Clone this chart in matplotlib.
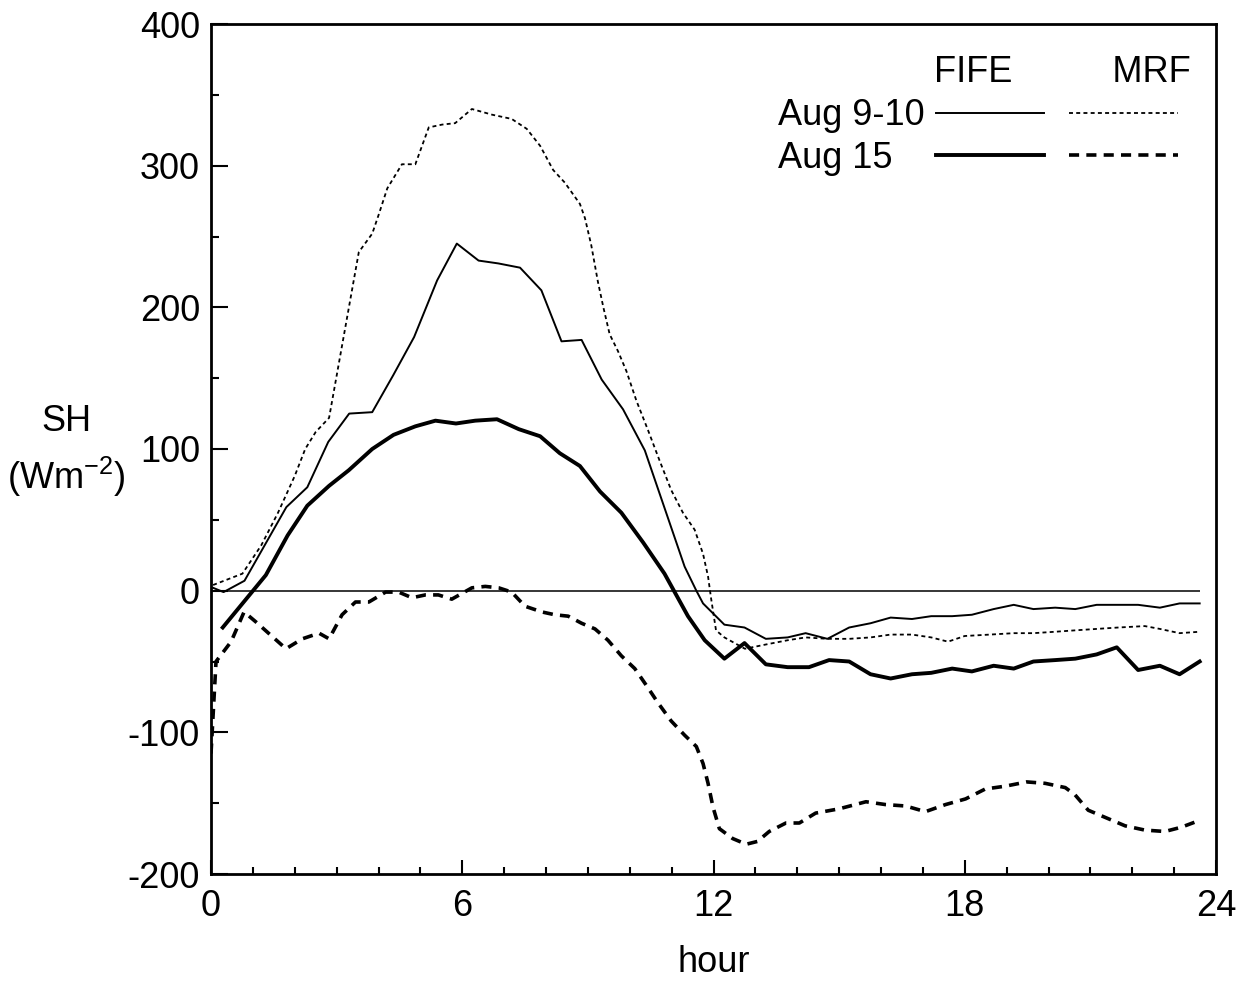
import matplotlib
matplotlib.use("Agg")
import matplotlib.pyplot as plt
from matplotlib.lines import Line2D
from matplotlib.ticker import MultipleLocator

plt.rcParams["font.family"] = ["Liberation Sans", "DejaVu Sans"]
plt.rcParams["mathtext.fontset"] = "custom"
plt.rcParams["mathtext.rm"] = "Liberation Sans"
plt.rcParams["axes.unicode_minus"] = False

# FIFE Aug 9-10 (thin solid)
fife910_h = [0.05, 0.3, 0.8, 1.8, 2.3, 2.8, 3.3, 3.85, 4.35, 4.85, 5.4, 5.87, 6.39, 6.86,
             7.38, 7.89, 8.37, 8.85, 9.33, 9.84, 10.36, 11.31, 11.59, 11.75, 12.26, 12.74,
             13.25, 13.77, 14.2, 14.72, 15.24, 15.75, 16.23, 16.74, 17.2, 17.7, 18.17, 18.69,
             19.17, 19.64, 20.16, 20.64, 21.15, 21.67, 22.14, 22.66, 23.13, 23.61]
fife910_v = [2, -1, 7, 59, 73, 105, 125, 126, 152, 179, 219, 245, 233, 231,
             228, 212, 176, 177, 149, 128, 99, 17, 0, -9, -24, -26,
             -34, -33, -30, -34, -26, -23, -19, -20, -18, -18, -17, -13,
             -10, -13, -12, -13, -10, -10, -10, -12, -9, -9]

# FIFE Aug 15 (thick solid)
fife15_h = [0.28, 1.31, 1.83, 2.3, 2.82, 3.29, 3.85, 4.36, 4.88, 5.36, 5.85, 6.31, 6.83,
            7.35, 7.86, 8.33, 8.81, 9.29, 9.8, 10.32, 10.83, 11.39, 11.79, 12.26, 12.74,
            13.25, 13.77, 14.28, 14.76, 15.24, 15.75, 16.23, 16.74, 17.2, 17.7, 18.17,
            18.69, 19.17, 19.64, 20.16, 20.64, 21.15, 21.63, 22.14, 22.66, 23.13, 23.61]
fife15_v = [-26, 11, 39, 60, 74, 85, 100, 110, 116, 120, 118, 120, 121,
            114, 109, 97, 88, 70, 55, 34, 12, -18, -35, -48, -37,
            -52, -54, -54, -49, -50, -59, -62, -59, -58, -55, -57,
            -53, -55, -50, -49, -48, -45, -40, -56, -53, -59, -50]

# MRF Aug 9-10 (thin dotted)
mrf910_h = [0.05, 0.75, 1.2, 1.6, 2.0, 2.25, 2.5, 2.82, 3.53, 3.85, 4.0, 4.21, 4.56, 4.88,
            5.2, 5.52, 5.83, 6.23, 6.71, 7.18, 7.54, 7.86, 8.17, 8.45, 8.81, 8.93, 9.08,
            9.24, 9.37, 9.52, 9.72, 9.92, 10.16, 10.44, 10.71, 10.99, 11.27, 11.55, 11.75,
            11.87, 11.94, 12.06, 12.26, 12.75, 13.25, 13.77, 14.2, 14.72, 15.24, 15.75,
            16.23, 16.74, 17.2, 17.6, 18.0, 18.6, 19.17, 19.64, 20.16, 20.64, 21.15,
            21.67, 22.3, 22.66, 23.13, 23.61]
mrf910_v = [4, 12, 32, 55, 81, 100, 112, 122, 239, 252, 265, 284, 301, 301,
            327, 329, 330, 340, 336, 333, 326, 314, 297, 288, 273, 263, 244,
            218, 200, 181, 169, 155, 134, 113, 92, 71, 55, 43, 26,
            10, -5, -28, -33, -41, -38, -35, -33, -34, -34, -33,
            -31, -31, -33, -36, -32, -31, -30, -30, -29, -28, -27,
            -26, -25, -27, -30, -29]

# MRF Aug 15 (thick dashed)
mrf15_h = [0.0, 0.12, 0.48, 0.79, 1.07, 1.79, 2.18, 2.58, 2.82, 3.13, 3.45, 3.77, 4.17,
           4.48, 4.8, 5.12, 5.43, 5.75, 6.23, 6.55, 6.87, 7.18, 7.5, 7.9, 8.21, 8.53,
           8.85, 9.17, 9.48, 9.8, 10.12, 10.4, 10.67, 10.99, 11.31, 11.59, 11.75, 11.87,
           11.99, 12.14, 12.46, 12.78, 13.05, 13.33, 13.73, 14.05, 14.44, 15.0, 15.64,
           16.11, 16.59, 17.06, 17.54, 18.02, 18.49, 18.97, 19.48, 19.92, 20.4, 20.63,
           20.95, 21.35, 21.83, 22.3, 22.78, 23.17, 23.53]
mrf15_v = [-115, -50, -36, -15, -22, -41, -34, -30, -34, -17, -8, -8, -1,
           -1, -5, -3, -3, -6, 2, 3, 2, -1, -11, -15, -17, -18,
           -23, -27, -35, -46, -55, -67, -79, -92, -102, -110, -122, -136,
           -153, -168, -175, -179, -177, -170, -164, -164, -157, -154, -149,
           -151, -152, -156, -151, -147, -140, -138, -135, -136, -139, -144,
           -155, -160, -166, -169, -170, -167, -163]

row_labels = ["Aug 9-10", "Aug 15"]

FS = 26

fig = plt.figure(figsize=(12.46, 9.81), dpi=100)
ax = fig.add_axes([211 / 1246, 1 - 874 / 981, (1216 - 211) / 1246, (874 - 24) / 981])

ax.hlines(0, 0, fife910_h[-1], color="black", lw=1.1)
l1, = ax.plot(fife910_h, fife910_v, color="black", lw=1.4)
l2, = ax.plot(fife15_h, fife15_v, color="black", lw=2.8)
l3, = ax.plot(mrf910_h, mrf910_v, color="black", lw=1.3, ls=(0, (2.2, 1.8)))
l4, = ax.plot(mrf15_h, mrf15_v, color="black", lw=2.6, ls=(0, (2.8, 2.0)))

ax.set_xlim(0, 24)
ax.set_ylim(-200, 400)
ax.xaxis.set_major_locator(MultipleLocator(6))
ax.xaxis.set_minor_locator(MultipleLocator(1))
ax.yaxis.set_major_locator(MultipleLocator(100))
ax.yaxis.set_minor_locator(MultipleLocator(50))
ax.tick_params(which="both", direction="in", width=1.5, labelsize=FS,
               top=False, right=False)
ax.tick_params(axis="x", which="major", length=10, pad=11)
ax.tick_params(axis="x", which="minor", length=5)
ax.tick_params(axis="y", which="major", length=12, pad=8)
ax.tick_params(axis="y", which="minor", length=6)
for sp in ax.spines.values():
    sp.set_linewidth(2)

ax.set_xlabel("hour", fontsize=FS, labelpad=15)
ax.set_ylabel("SH\n(Wm$^{-2}$)", fontsize=FS, rotation=0, linespacing=1.45,
              ha="center", va="center")
ax.yaxis.set_label_coords(-0.144, 0.497)

# legend: row labels in the first column, FIFE and MRF line keys in the next two
blank = Line2D([], [], color="none", lw=0)
leg = ax.legend([blank, blank, l1, l2, l3, l4], row_labels + ["", "", "", ""],
                ncol=3, frameon=False, fontsize=FS,
                title="FIFE          MRF", title_fontsize=FS, alignment="right",
                handlelength=3.0, handletextpad=0.36, columnspacing=0.33,
                labelspacing=0.22, loc="upper right", bbox_to_anchor=(1.0, 0.993),
                borderaxespad=0.0, borderpad=0.7)

fig.savefig("out.png", dpi=100)
